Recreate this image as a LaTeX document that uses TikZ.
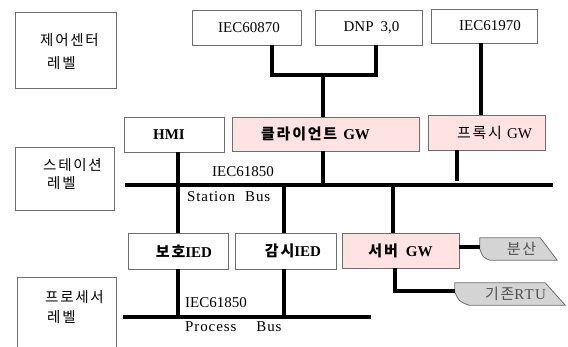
\documentclass[tikz,border=0pt]{standalone}
\usepackage{fontspec}
\setmainfont{Liberation Serif}
\newfontfamily\kr{Noto Sans CJK KR}
\newfontfamily\krs[LetterSpace=12]{Noto Sans CJK KR}
\usetikzlibrary{backgrounds}
\definecolor{boxgray}{RGB}{110,110,110}
\definecolor{pinkfill}{RGB}{255,226,226}
\definecolor{taggray}{RGB}{212,212,212}
\definecolor{tagtext}{RGB}{80,80,80}
\tikzset{
  box/.style={draw=boxgray, line width=0.8pt, fill=white, inner sep=0pt,
    font=\fontsize{15}{18}\selectfont},
  pinkbox/.style={box, fill=pinkfill},
  wire/.style={line width=4pt},
  buslbl/.style={inner sep=0pt, anchor=west, font=\fontsize{15}{18}\selectfont},
  krl/.style={inner sep=0pt, anchor=west, font=\krs\fontsize{14.5}{18}\selectfont},
  tagnode/.style={inner sep=0pt, text=tagtext, font=\addfontfeature{LetterSpace=8}\fontsize{15}{18}\selectfont},
  tagshape/.style={draw=boxgray, fill=taggray, line width=0.8pt},
}
\begin{document}
\begin{tikzpicture}[x=1pt, y=-1pt]
\useasboundingbox (0,0) rectangle (568,347);
\clip (0,0) rectangle (568,347);

% level boxes
\node[box, minimum width=101, minimum height=76] (ctrl) at (65.5,50) {};
\node[krl] (ctrlt1) at (40,40) {제어센터};
\node[krl] (ctrlt2) at (47,63) {레벨};
\node[box, minimum width=99, minimum height=63] (stat) at (64.5,178.5) {};
\node[krl] (statt1) at (43,165) {스테이션};
\node[krl] (statt2) at (47,183) {레벨};
\node[box, minimum width=99, minimum height=90] (proc) at (66.5,322) {};
\node[krl] (proct1) at (45,297) {프로세서};
\node[krl] (proct2) at (47,317) {레벨};

% top protocol boxes
\node[box, minimum width=109, minimum height=35] (iecA) at (246.5,27.5) {\hspace*{5pt}IEC60870};
\node[box, minimum width=107, minimum height=35] (dnp) at (368.5,27.5) {\hspace*{6pt}DNP\hspace*{7pt}3,0};
\node[box, minimum width=106, minimum height=34] (iecB) at (484,26) {\hspace*{12pt}IEC61970};

% station level boxes
\node[box, minimum width=100, minimum height=35] (hmi) at (174,134.5) {\bfseries HMI\hspace*{10pt}};
\node[pinkbox, minimum width=187, minimum height=34] (client) at (325.5,134) {\bfseries{\krs 클라이언트}\hspace*{6pt}GW\hspace*{20pt}};
\node[pinkbox, minimum width=117, minimum height=35] (proxy) at (486.5,132.5) {\hspace*{16pt}{\krs 프록시}\hspace*{5pt}GW};

% bay level boxes
\node[box, minimum width=100, minimum height=36] (prot) at (178,251) {\hspace*{12pt}\bfseries{\krs 보호}IED};
\node[box, minimum width=101, minimum height=36] (mon) at (285.5,251) {\hspace*{15pt}\bfseries{\krs 감시}IED};
\node[pinkbox, minimum width=117, minimum height=35] (server) at (400.5,250.5) {\bfseries{\krs 서버}\hspace*{8pt}GW};

% tags
\node[tagnode, minimum width=77, minimum height=22] (dist) at (518.5,249) {\hspace*{6pt}{\krs 분산}};
\node[tagnode, minimum width=110, minimum height=22] (rtu) at (510,294) {\hspace*{11pt}{\krs 기존}RTU};
\begin{scope}[on background layer]
\draw[tagshape] (dist.north west) -- ([xshift=-17]dist.north east) -- (dist.south east)
  -- ([xshift=10]dist.south west) .. controls ([xshift=3,yshift=3]dist.south west) .. (dist.west) -- cycle;
\draw[tagshape] (rtu.north west) -- ([xshift=-20]rtu.north east) -- (rtu.south east)
  -- ([xshift=14]rtu.south west) .. controls ([xshift=4,yshift=4]rtu.south west) .. ([yshift=2]rtu.west) -- cycle;
\end{scope}

% buses
\coordinate (sbL) at (125,185);
\coordinate (sbR) at (553,185);
\coordinate (pbL) at (123,317);
\coordinate (pbR) at (371,317);
\draw[wire] (sbL) -- (sbR);
\draw[wire] (pbL) -- (pbR);

% bus labels
\node[buslbl] (sbA) at (212,172) {IEC61850};
\node[buslbl] (sbB) at (187,197) {\addfontfeature{LetterSpace=6}Station\hspace*{10pt}Bus};
\node[buslbl] (pbA) at (185,303) {IEC61850};
\node[buslbl] (pbB) at (185,327) {\addfontfeature{LetterSpace=6}Process\hspace*{20pt}Bus};

% control center connections
\coordinate (j1) at (323,75);
\draw[wire] ([xshift=25.5]iecA.south) |- (j1) -| ([xshift=7.5]dnp.south);
\draw[wire] (j1) -- (j1 |- client.north);
\draw[wire] ([xshift=-3]iecB.south) -- ([xshift=-3]iecB.south |- proxy.north);

% station connections
\draw[wire] (prot.north |- hmi.south) -- (prot.north);
\draw[wire] (j1 |- client.south) -- (j1 |- sbL);
\coordinate (pend) at (457,181);
\draw[wire] (pend |- proxy.south) -- (pend);
\coordinate (mx) at (284,0);
\draw[wire] (mx |- sbL) -- (mx |- mon.north);
\draw[wire] (mx |- mon.south) -- (mx |- pbL);
\coordinate (sx) at (393,0);
\draw[wire] (sx |- sbL) -- (sx |- server.north);

% process connections
\draw[wire] (prot.south) -- (prot.south |- pbL);

% server connections
\draw[wire] ([xshift=-5.5]server.south) |- ([yshift=3]rtu.west);
\draw[wire] ([yshift=3.5]server.east) -- ([yshift=2]dist.west);
\end{tikzpicture}
\end{document}
